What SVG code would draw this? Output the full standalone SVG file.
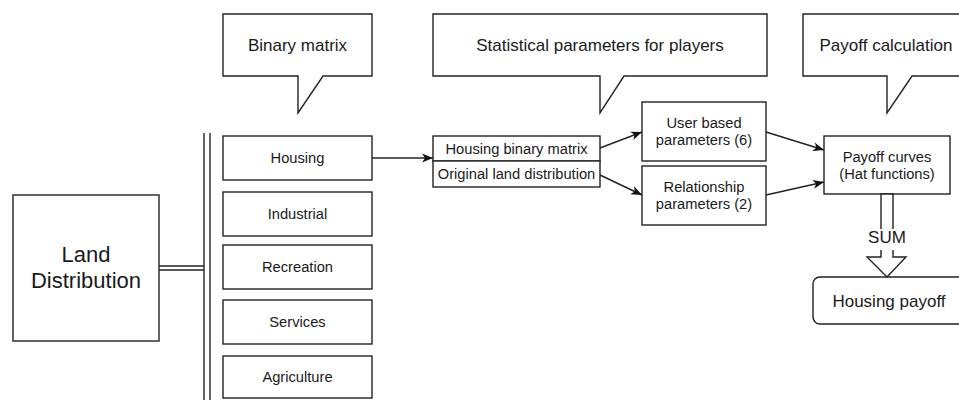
<svg xmlns="http://www.w3.org/2000/svg" width="959" height="400" viewBox="0 0 959 400">
<style>
.box{fill:#fff;stroke:#222;stroke-width:1.4}
.ln{fill:none;stroke:#222;stroke-width:1.4}
.t{font-family:"Liberation Sans",Arial,sans-serif;fill:#1a1a1a;text-anchor:middle}
.s15{font-size:14.7px}
.s17{font-size:17px}
.s22{font-size:22px}
</style>
<defs>
<marker id="arr" markerUnits="userSpaceOnUse" markerWidth="12" markerHeight="10" refX="11" refY="5" orient="auto">
<path d="M0,0.5 L11,5 L0,9.5 L3,5 Z" fill="#111"/>
</marker>
</defs>
<rect width="959" height="400" fill="#fff"/>

<g id="land-distribution">
<rect class="box" x="13" y="195" width="146" height="146"/>
<text class="t s22" x="86" y="262">Land</text>
<text class="t s22" x="86" y="288">Distribution</text>
</g>

<g id="bus">
<line class="ln" x1="204" y1="133" x2="204" y2="402"/>
<line class="ln" x1="210" y1="133" x2="210" y2="402"/>
</g>

<g id="callout-binary">
<path class="box" d="M223,14 H372 V76 H323 L298,113 V76 H223 Z"/>
<text class="t s17" x="297.5" y="51">Binary matrix</text>
</g>
<g id="callout-statistical">
<path class="box" d="M433,14 H767 V76 H624 L600,113 V76 H433 Z"/>
<text class="t s17" x="600" y="51">Statistical parameters for players</text>
</g>
<g id="callout-payoff">
<path class="box" d="M803,14 H972 V76 H912 L887,113 V76 H803 Z"/>
<text class="t s17" x="886" y="51">Payoff calculation</text>
</g>

<g id="housing">
<rect class="box" x="223" y="136" width="149" height="44"/>
<text class="t s15" x="297.5" y="163">Housing</text>
</g>
<g id="industrial">
<rect class="box" x="223" y="192" width="149" height="44"/>
<text class="t s15" x="297.5" y="219">Industrial</text>
</g>
<g id="recreation">
<rect class="box" x="223" y="245" width="149" height="44"/>
<text class="t s15" x="297.5" y="272">Recreation</text>
</g>
<g id="services">
<rect class="box" x="223" y="300" width="149" height="44"/>
<text class="t s15" x="297.5" y="327">Services</text>
</g>
<g id="agriculture">
<rect class="box" x="223" y="356" width="149" height="42"/>
<text class="t s15" x="297.5" y="382">Agriculture</text>
</g>

<g id="housing-binary-matrix">
<rect class="box" x="433" y="136" width="167" height="25"/>
<text class="t s15" x="516.5" y="154">Housing binary matrix</text>
</g>
<g id="original-land-distribution">
<rect class="box" x="433" y="161" width="167" height="26"/>
<text class="t s15" x="516.5" y="179">Original land distribution</text>
</g>

<g id="user-based">
<rect class="box" x="642" y="102" width="124" height="59"/>
<text class="t s15" x="704" y="128">User based</text>
<text class="t s15" x="704" y="145">parameters (6)</text>
</g>
<g id="relationship">
<rect class="box" x="642" y="166" width="124" height="59"/>
<text class="t s15" x="704" y="192">Relationship</text>
<text class="t s15" x="704" y="209">parameters (2)</text>
</g>

<g id="payoff-curves">
<rect class="box" x="824" y="136" width="126" height="58"/>
<text class="t s15" x="887" y="162">Payoff curves</text>
<text class="t s15" x="887" y="179">(Hat functions)</text>
</g>

<g id="housing-payoff">
<rect class="box" x="813" y="277" width="156" height="47" rx="7" ry="7"/>
<text class="t s17" x="889" y="307">Housing payoff</text>
</g>

<g id="connectors">
<line class="ln" x1="159" y1="266" x2="204" y2="266"/>
<line class="ln" x1="159" y1="270" x2="204" y2="270"/>
<line class="ln" x1="372" y1="158" x2="433" y2="158" marker-end="url(#arr)"/>
<line class="ln" x1="600" y1="148" x2="642" y2="132" marker-end="url(#arr)"/>
<line class="ln" x1="600" y1="175" x2="642" y2="195" marker-end="url(#arr)"/>
<line class="ln" x1="766" y1="132" x2="824" y2="150" marker-end="url(#arr)"/>
<line class="ln" x1="766" y1="195" x2="824" y2="182" marker-end="url(#arr)"/>
<path class="box" d="M881,194 H893 V257 H906 L887,277 L867,257 H881 Z"/>
<rect x="866" y="229" width="42" height="21" fill="#fff"/>
<text class="t s17" x="887" y="243">SUM</text>
</g>
</svg>
